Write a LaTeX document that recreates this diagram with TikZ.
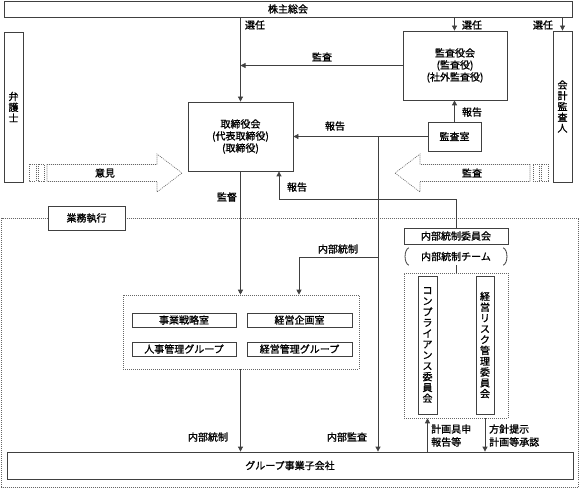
\documentclass[tikz,border=0pt]{standalone}
\usepackage{fontspec}
\setmainfont{Noto Sans CJK JP}[FakeBold=1.2]
\usetikzlibrary{arrows.meta,calc}
\begin{document}
\begin{tikzpicture}[x=1pt,y=-1pt,
  font=\fontsize{10}{12}\selectfont,
  box/.style={draw=black!75, line width=0.8pt, fill=white, inner sep=0pt, align=center},
  vbox/.style={box, font=\fontsize{10}{10.8}\selectfont},
  dotbox/.style={draw=black!60, line width=0.6pt, dash pattern=on 1pt off 1pt, inner sep=0pt},
  ln/.style={draw=black!75, line width=0.8pt},
  arr/.style={ln, -{Triangle[length=5pt,width=5pt]}},
  lbl/.style={inner sep=0pt, align=left}
]
\useasboundingbox (0,0) rectangle (581,489);

% outer execution region
\draw[dotbox] (1.5,218) rectangle (578,487);

% boxes
\node[box, minimum width=568, minimum height=16] (soukai) at (288,9) {株主総会};
\node[box, minimum width=105, minimum height=69] (tori) at (240.5,136.5) {取締役会\\(代表取締役)\\(取締役)};
\node[box, minimum width=104, minimum height=69] (kansayaku) at (455,65.5) {監査役会\\(監査役)\\(社外監査役)};
\node[box, minimum width=53, minimum height=29] (kansashitsu) at (454.5,136.5) {監査室};
\node[vbox, minimum width=19, minimum height=150] (bengo) at (13.5,107) {弁\\護\\士};
\node[vbox, minimum width=19, minimum height=151] (kaikei) at (562.5,106.5) {会\\計\\監\\査\\人};
\node[box, minimum width=77, minimum height=24] (gyomu) at (86.5,218) {業務執行};

\node[dotbox, minimum width=236, minimum height=74] (staff) at (241,332) {};
\node[box, minimum width=104, minimum height=14] (senryaku) at (184,320) {事業戦略室};
\node[box, minimum width=105, minimum height=14] (kikaku) at (299.5,320) {経営企画室};
\node[box, minimum width=104, minimum height=14] (jinji) at (184,349) {人事管理グループ};
\node[box, minimum width=105, minimum height=14] (keiei) at (299.5,349) {経営管理グループ};

\node[box, minimum width=566, minimum height=27] (group) at (290,465.5) {グループ事業子会社};

\node[box, minimum width=104, minimum height=16] (iinkai) at (456,236) {内部統制委員会};
\node[inner sep=0pt, minimum width=104, minimum height=17] (team) at (456,256.5) {内部統制チーム};
\draw[ln] ($(team.north west)+(5,0)$) .. controls ($(team.north west)+(0,2)$) and ($(team.south west)+(0,-2)$) .. ($(team.south west)+(5,0)$);
\draw[ln] ($(team.north east)+(-5,0)$) .. controls ($(team.north east)+(0,2)$) and ($(team.south east)+(0,-2)$) .. ($(team.south east)+(-5,0)$);

\node[dotbox, minimum width=104, minimum height=145] (cmt) at (456,345.5) {};
\node[vbox, minimum width=19, minimum height=138] (comp) at (427.5,345) {コ\\ン\\プ\\ラ\\イ\\ア\\ン\\ス\\委\\員\\会};
\node[vbox, minimum width=18, minimum height=138] (risk) at (485,345) {経\\営\\リ\\ス\\ク\\管\\理\\委\\員\\会};

% hollow block arrows
\draw[dotbox, fill=white] (29,164.5) rectangle (36,181.5);
\draw[dotbox, fill=white] (38,164.5) rectangle (44,181.5);
\draw[dotbox, fill=white] (47,164.5) -- (157,164.5) -- (157,154) -- (182,173) -- (157,192) -- (157,181.5) -- (47,181.5) -- cycle;
\node[lbl] (iken) at (105,173) {意見};

\draw[dotbox, fill=white] (548,164.5) rectangle (541,181.5);
\draw[dotbox, fill=white] (539,164.5) rectangle (533,181.5);
\draw[dotbox, fill=white] (530,164.5) -- (420,164.5) -- (420,154) -- (395,173) -- (420,192) -- (420,181.5) -- (530,181.5) -- cycle;
\node[lbl] (kansaR) at (472,173) {監査};

% connectors
\draw[arr] (soukai.south -| tori.north) -- (tori.north);
\draw[arr] (soukai.south -| kansashitsu.north) -- (kansashitsu.north |- kansayaku.north);
\draw[arr] (soukai.south -| kaikei.north) -- (kaikei.north);
\draw[arr] (kansayaku.west) -- (kansayaku.west -| tori.north);
\draw[arr] (kansashitsu.north) -- (kansashitsu.north |- kansayaku.south);
\draw[arr] (kansashitsu.west) -- (tori.east);

\coordinate (naibu) at (378,136.5);
\draw[arr] (naibu) -- (naibu |- group.north);
\coordinate (nbsplit) at (378,257);
\coordinate (nbturn) at (299,257);
\draw[arr] (nbsplit) -- (nbturn) -- (nbturn |- staff.north);

\coordinate (hk) at (279,199);
\draw[arr] (iinkai.north) |- (hk) -- (hk |- tori.south);

\draw[arr] (tori.south) -- (tori.south |- staff.north);
\draw[arr] (staff.south -| tori.south) -- (group.north -| tori.south);
\draw[ln] (team.south) -- (cmt.north);
\draw[arr] (group.north -| comp.south) -- (cmt.south -| comp.south);
\draw[arr] (cmt.south -| risk.south) -- (group.north -| risk.south);

% labels
\node[lbl] at (255,25) {選任};
\node[lbl] at (472,25) {選任};
\node[lbl] at (543,25) {選任};
\node[lbl] at (322,57) {監査};
\node[lbl] at (472,112) {報告};
\node[lbl] at (335,126) {報告};
\node[lbl] at (227,197) {監督};
\node[lbl] at (297,187) {報告};
\node[lbl] at (338,249) {内部統制};
\node[lbl] at (208,437) {内部統制};
\node[lbl] at (347,437) {内部監査};
\node[lbl, anchor=west, font=\fontsize{10}{13}\selectfont] at (431,435.5) {計画具申\\報告等};
\node[lbl, anchor=west, font=\fontsize{10}{13}\selectfont] at (489,435.5) {方針提示\\計画等承認};
\end{tikzpicture}
\end{document}
